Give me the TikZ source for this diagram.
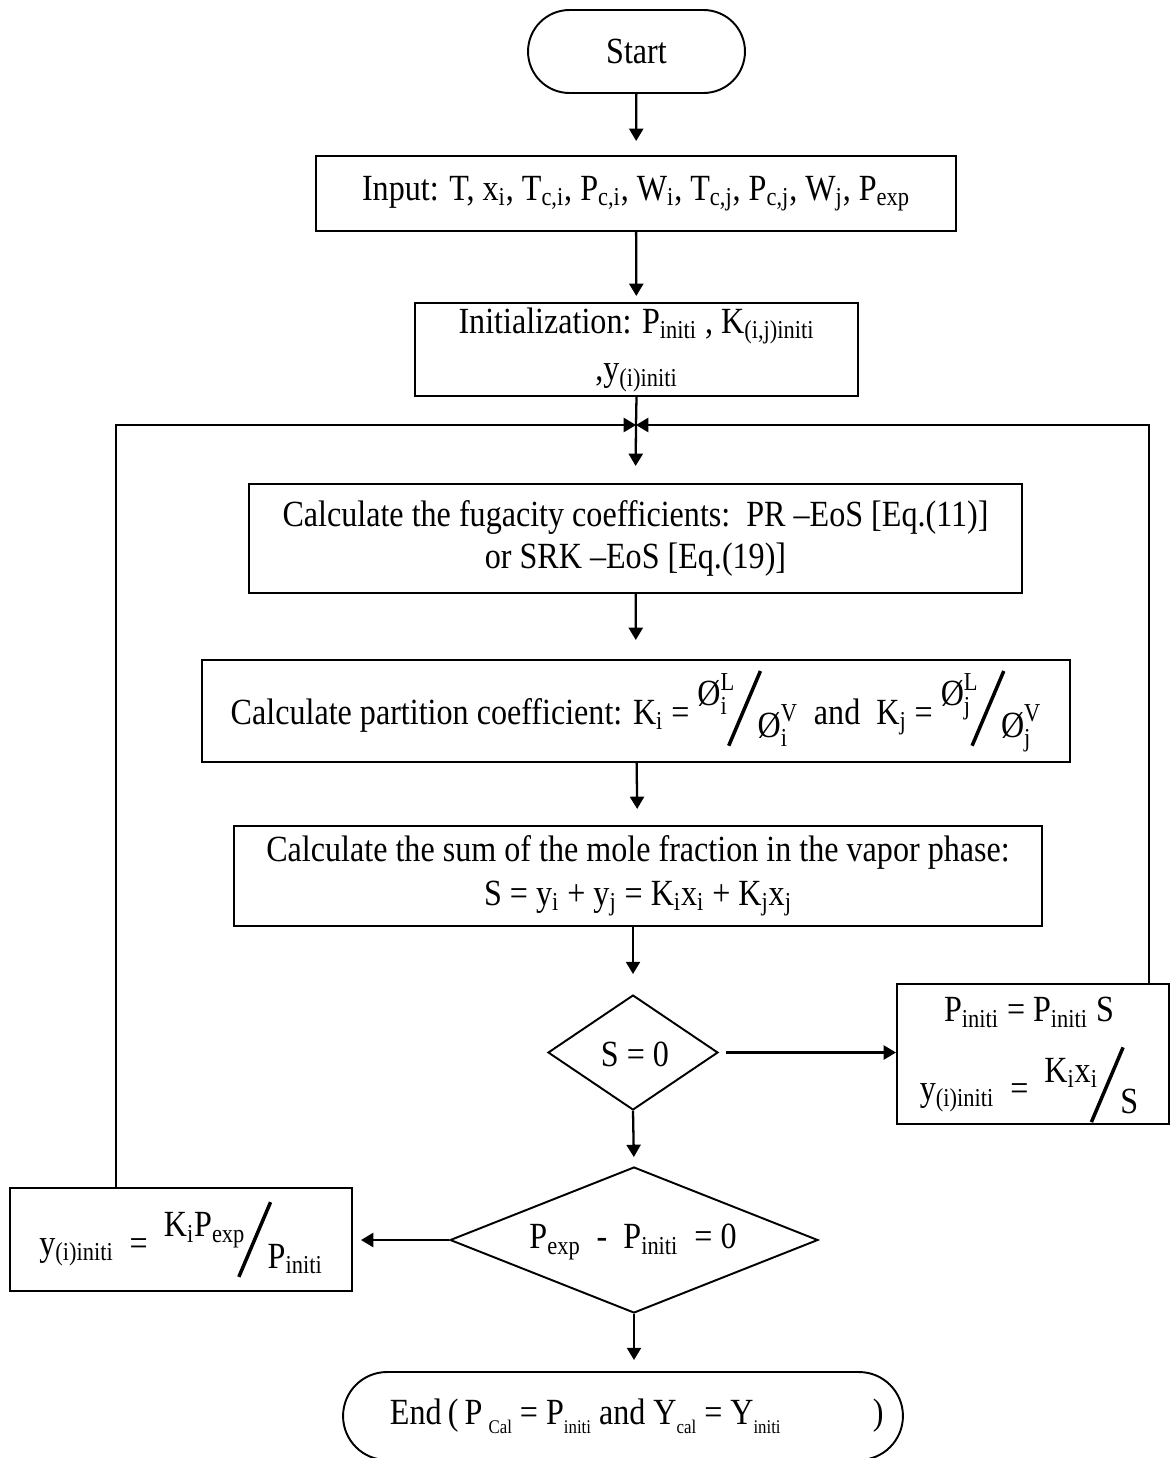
\documentclass[tikz,border=0pt]{standalone}
\usepackage{fontspec}
\setmainfont{Liberation Serif}[FakeStretch=0.87]
\usepackage{amsmath}
\usepackage{graphicx}
\usetikzlibrary{shapes.geometric,shapes.misc,arrows.meta,calc}

% thick diagonal bar used for slashed fractions
\newcommand{\slashbar}{\raisebox{-0.6em}{\rotatebox{67}{\rule{2.2em}{2pt}}}}
% fugacity coefficient symbol with phase superscript and component subscript
\newcommand{\phic}[2]{$\text{Ø}^{\text{#1}}_{\text{#2}}$}
% slashed fraction
\newcommand{\sfrac}[2]{\raisebox{0.5em}{#1}\hspace{-0.22em}\slashbar\hspace{-0.12em}\raisebox{-0.35em}{#2}}
% small lowered subscript
\newcommand{\lowsub}[1]{\raisebox{-0.25em}{\fontsize{11}{13}\selectfont #1}}

\begin{document}
\begin{tikzpicture}[x=0.02cm,y=-0.02cm,
  every node/.style={font=\fontsize{21}{24}\selectfont, inner sep=0pt},
  box/.style={draw, line width=1.2pt, rectangle, align=center},
  term/.style={draw, line width=1.1pt, rounded rectangle, align=center},
  decision/.style={draw, line width=1.1pt, diamond, inner sep=0pt},
  link/.style={line width=1.3pt},
  flow/.style={line width=1.3pt, -{Triangle[length=7pt,width=8pt]}}]

\useasboundingbox (0,0) rectangle (1170,1458);

% terminals and process boxes
\node[term, minimum width=4.34cm, minimum height=1.66cm] (start) at (636.5,51.5) {Start};

\node[box, minimum width=12.8cm, minimum height=1.5cm] (input) at (636,193.5)
  {Input: T, x\textsubscript{i}, T\textsubscript{c,i}, P\textsubscript{c,i}, W\textsubscript{i}, T\textsubscript{c,j}, P\textsubscript{c,j}, W\textsubscript{j}, P\textsubscript{exp}};

\node[box, minimum width=8.86cm, minimum height=1.86cm] (init) at (636.5,349.5)
  {Initialization: P\textsubscript{initi} , K\textsubscript{(i,j)initi}\\[3pt] ,y\textsubscript{(i)initi}};

\node[box, minimum width=15.46cm, minimum height=2.18cm] (fug) at (635.5,538.5)
  {Calculate the fugacity coefficients:\ \ PR --EoS [Eq.(11)]\\[0pt] or SRK --EoS [Eq.(19)]};

\node[box, minimum width=17.36cm, minimum height=2.04cm] (part) at (636,711)
  {Calculate partition coefficient: K\textsubscript{i} = \sfrac{\phic{L}{i}}{\phic{V}{i}}\ \ and\ \ K\textsubscript{j} = \sfrac{\phic{L}{j}}{\phic{V}{j}}};

\node[box, minimum width=16.16cm, minimum height=2.0cm] (sum) at (638,876)
  {Calculate the sum of the mole fraction in the vapor phase:\\[0.5pt]
   S = y\textsubscript{i} + y\textsubscript{j} = K\textsubscript{i}x\textsubscript{i} + K\textsubscript{j}x\textsubscript{j}};

% decisions
\node[decision, minimum width=3.4cm, minimum height=2.3cm] (d1) at (633,1052.5) {};
\node (d1t) at (635,1054) {S = 0};

\node[decision, minimum width=7.36cm, minimum height=2.92cm] (d2) at (634,1240) {};
\node (d2t) at (633,1242) {P\textsubscript{exp}\ \ -\ \ P\textsubscript{initi}\ \ = 0};

% update boxes
\node[box, minimum width=5.44cm, minimum height=2.8cm] (rbox) at (1033,1054) {};
\node[align=center] (rboxt) at (1029,1060)
  {P\textsubscript{initi} = P\textsubscript{initi} S\\[10pt]
   y\textsubscript{(i)initi}\ \ =\ \ \sfrac{K\textsubscript{i}x\textsubscript{i}}{S}};

\node[box, minimum width=6.84cm, minimum height=2.06cm] (lbox) at (181,1239.5)
  {y\textsubscript{(i)initi}\ \ =\ \ \sfrac{K\textsubscript{i}P\textsubscript{exp}}{P\textsubscript{initi}}};

\node[term, minimum width=11.2cm, minimum height=1.76cm] (end) at (623,1416)
  {\hspace{0.55cm}End\,(\,P\,\lowsub{Cal} = P\lowsub{initi} and Y\lowsub{cal} = Y\lowsub{initi}\hspace{2.5em})};

% loop junction
\coordinate (j) at (636,425);
\coordinate (lc) at (116,425);
\coordinate (rc) at (1149,425);

% main flow
\draw[flow, shorten >=14*0.02cm] (start) -- (input);
\draw[flow, shorten >=6*0.02cm] (input) -- (init);
\draw[link] (init.south) -- (j);
\draw[flow, shorten >=17*0.02cm] (j) -- (fug.north);
\draw[flow, shorten >=19*0.02cm] (fug) -- (part);
\draw[flow, shorten >=16*0.02cm] (part) -- (sum);
\draw[flow, shorten >=20*0.02cm] (sum.south -| d1.north) -- (d1.north);
\draw[flow, shorten <=7*0.02cm] (d1.east) -- (d1.east -| rbox.west);
\draw[flow, shorten >=9*0.02cm] (d1.south) -- (d2.north);
\draw[flow, shorten >=8*0.02cm] (d2.west) -- (d2.west -| lbox.east);
\draw[flow, shorten >=11*0.02cm] (d2.south) -- (end.north -| d2.south);

% feedback loops back to the junction
\draw[flow] (rbox.north -| rc) -- (rc) -- (j);
\draw[flow] (lbox.north -| lc) -- (lc) -- (j);

\end{tikzpicture}
\end{document}
